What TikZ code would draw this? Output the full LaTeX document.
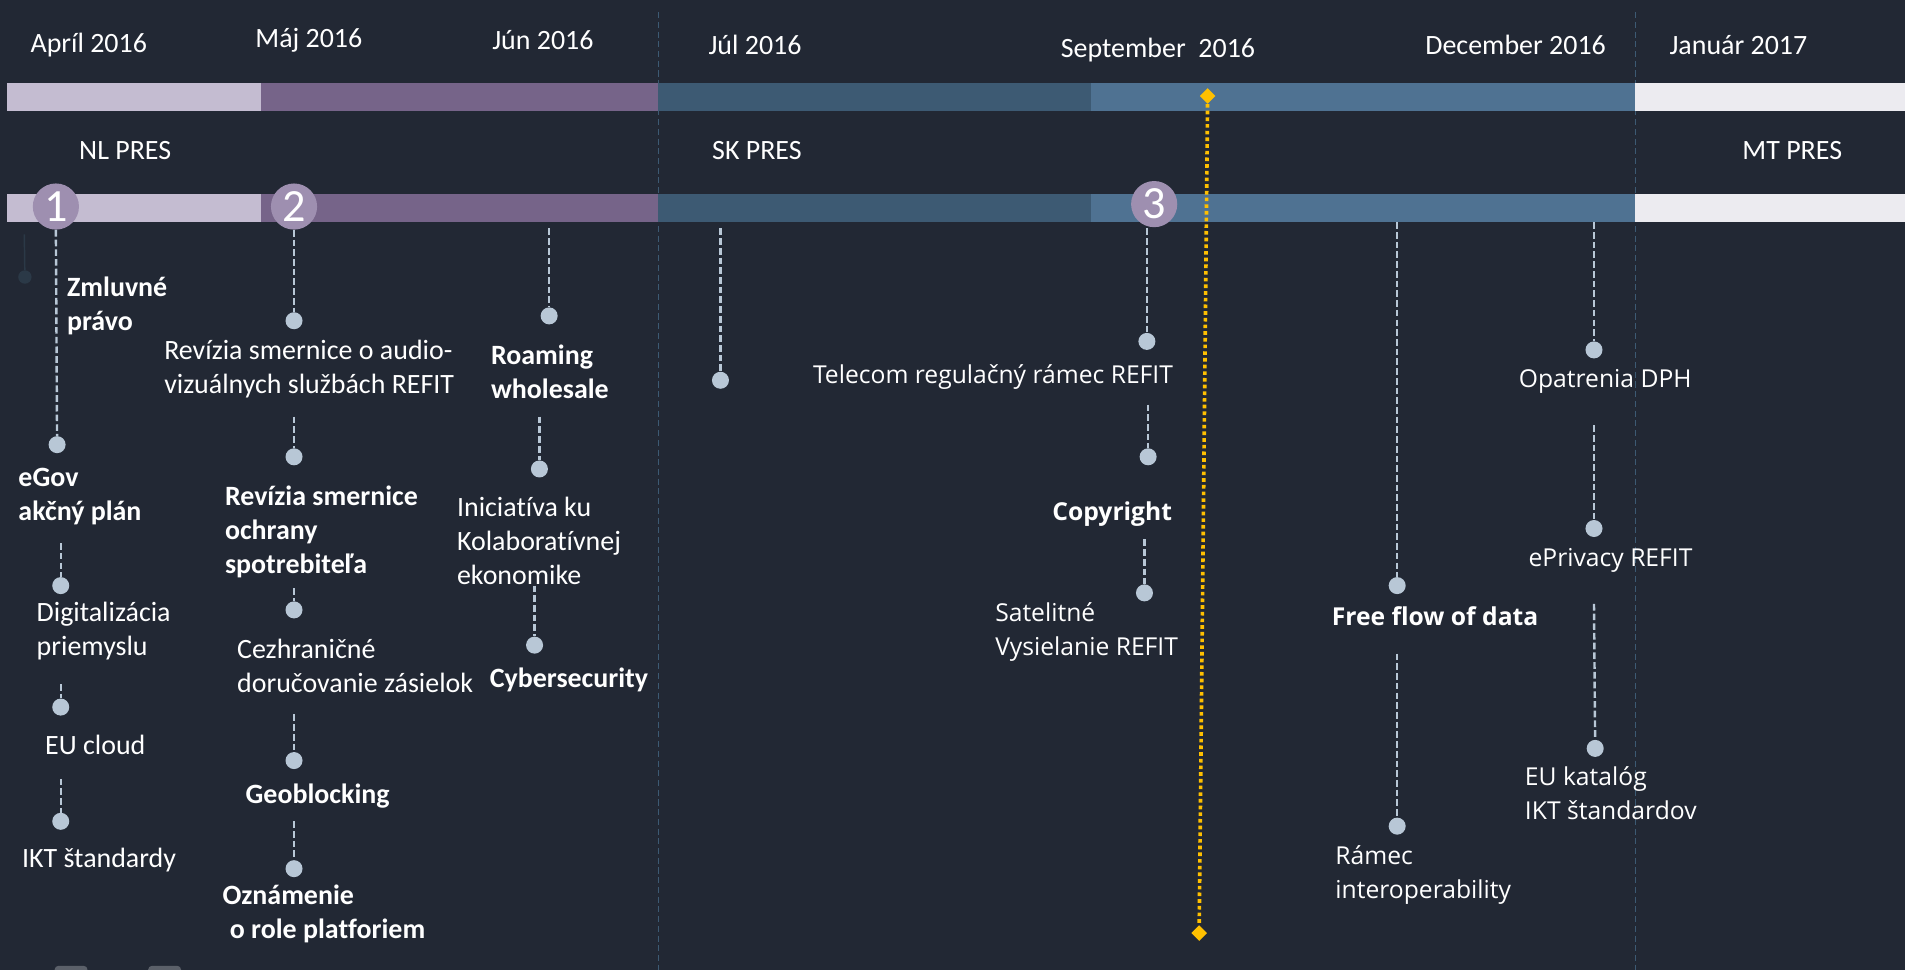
\documentclass[tikz,border=0pt]{standalone}
\usepackage{fontspec}
\setmainfont{Carlito}[Ligatures=NoCommon]
\newfontfamily\uifont{Open Sans}
\usetikzlibrary{shapes.geometric}

\definecolor{bgc}{HTML}{222834}
\definecolor{lavc}{HTML}{C4BCD1}
\definecolor{purc}{HTML}{766489}
\definecolor{steelc}{HTML}{3D5A73}
\definecolor{skyc}{HTML}{4F7292}
\definecolor{palec}{HTML}{ECEBF0}
\definecolor{dotc}{HTML}{B8C7D6}
\definecolor{badgec}{HTML}{9E8FB0}
\definecolor{goldc}{HTML}{FFC000}
\definecolor{sepc}{HTML}{3D5A73}
\definecolor{dimc}{HTML}{2B3947}
\definecolor{tabc}{HTML}{5B6069}

\tikzset{
  lbl/.style={inner sep=0pt, text=white, align=left, anchor=west,
    font=\fontsize{23}{28}\selectfont},
  lblb/.style={lbl, font=\fontsize{23}{28}\selectfont\bfseries},
  uil/.style={inner sep=0pt, text=white, align=left, anchor=west,
    font=\uifont\fontsize{20.3}{28}\selectfont},
  uib/.style={uil, font=\uifont\fontsize{20.3}{28}\selectfont\bfseries},
  dotn/.style={circle, fill=dotc, inner sep=0pt, minimum size=14pt},
  stem/.style={draw=dotc, line width=2pt, dash pattern=on 5.5pt off 2.5pt},
  badge/.style={circle, fill=badgec, inner sep=0pt, minimum size=38pt,
    text=white, font=\fontsize{38}{38}\selectfont},
  sepline/.style={draw=sepc, line width=1pt, dash pattern=on 5pt off 3pt},
  golddia/.style={diamond, fill=goldc, inner sep=0pt, minimum width=13pt, minimum height=13pt},
  goldline/.style={draw=goldc, line width=3pt, dash pattern=on 3pt off 2.5pt},
}

\begin{document}
\begin{tikzpicture}[x=1pt, y=-1pt]
\useasboundingbox (0,0) rectangle (1568,798);
\clip (0,0) rectangle (1568,798);
\fill[bgc] (0,0) rectangle (1568,798);

% presidency separators
\draw[sepline] (542,10) -- (542,798);
\draw[sepline] (1346,10) -- (1346,798);

% timeline bars
\foreach \y in {68,160} {
  \fill[lavc]   (6,\y)    rectangle (215,\y+23);
  \fill[purc]   (215,\y)  rectangle (542,\y+23);
  \fill[steelc] (542,\y)  rectangle (898,\y+23);
  \fill[skyc]   (898,\y)  rectangle (1346,\y+23);
  \fill[palec]  (1346,\y) rectangle (1568,\y+23);
}

% month labels
\node[lbl] (mApr) at (25,37)   {Apríl 2016};
\node[lbl] (mMaj) at (210,33)  {Máj 2016};
\node[lbl] (mJun) at (405,33)  {Jún 2016};
\node[lbl] (mJul) at (583,37)  {Júl 2016};
\node[lbl] (mSep) at (873,41)  {September~~2016};
\node[lbl] (mDec) at (1173,37) {December 2016};
\node[lbl] (mJan) at (1374,37) {Január 2017};

% presidency labels
\node[lbl] (pNL) at (65,124)   {NL PRES};
\node[lbl] (pSK) at (586,124)  {SK PRES};
\node[lbl] (pMT) at (1434,124) {MT PRES};

% faint marker left of badge 1
\coordinate (c00) at (20,193);
\node[circle, fill=dimc, inner sep=0pt, minimum size=11pt] (d00) at (20.5,228) {};
\draw[dimc, line width=1.2pt] (c00) -- (d00);

% column 1
\node[badge] (b1) at (46,170) {1};
\node[dotn] (d11) at (47,366) {};
\draw[stem] (b1.south) -- (d11);
\node[lblb] (t11) at (55,252) {Zmluvné\\právo};
\node[lblb] (t12) at (15,409) {eGov\\akčný plán};
\coordinate (c12) at (50,447);
\node[dotn] (d12) at (50,482) {};
\draw[stem] (c12) -- (d12);
\node[lbl] (t13) at (30,519.5) {Digitalizácia\\priemyslu};
\coordinate (c13) at (50,563);
\node[dotn] (d13) at (50,582) {};
\draw[stem] (c13) -- (d13);
\node[lbl] (t14) at (37,613) {EU cloud};
\coordinate (c14) at (50,641);
\node[dotn] (d14) at (50,676) {};
\draw[stem] (c14) -- (d14);
\node[lbl] (t15) at (18,708) {IKT štandardy};

% column 2
\node[badge] (b2) at (242,170) {2};
\node[dotn] (d21) at (242,264) {};
\draw[stem] (b2.south) -- (d21);
\node[lbl] (t21) at (135,304) {Revízia smernice o audio-\\vizuálnych službách REFIT};
\coordinate (c22) at (242,343);
\node[dotn] (d22) at (242,376) {};
\draw[stem] (c22) -- (d22);
\node[lblb] (t22) at (185,437.5) {Revízia smernice\\ochrany\\spotrebiteľa};
\coordinate (c23) at (242,484);
\node[dotn] (d23) at (242,502) {};
\draw[stem] (c23) -- (d23);
\node[lbl] (t23) at (195,548) {Cezhraničné\\doručovanie zásielok};
\coordinate (c24) at (242,588);
\node[dotn] (d24) at (242,626) {};
\draw[stem] (c24) -- (d24);
\node[lblb] (t24) at (202,655) {Geoblocking};
\coordinate (c25) at (242,676);
\node[dotn] (d25) at (242,715) {};
\draw[stem] (c25) -- (d25);
\node[lblb] (t25) at (183,752) {Oznámenie\\\hspace*{6pt}o role platforiem};

% column 3
\coordinate (c31) at (452,188);
\node[dotn] (d31) at (452,260) {};
\draw[stem] (c31) -- (d31);
\node[lblb] (t31) at (404,306) {Roaming\\wholesale};
\coordinate (c32) at (444,343);
\node[dotn] (d32) at (444,386) {};
\draw[stem] (c32) -- (d32);
\node[lbl] (t32) at (376,445) {Iniciatíva ku\\Kolaboratívnej\\ekonomike};
\coordinate (c33) at (440,482);
\node[dotn] (d33) at (440,531) {};
\draw[stem] (c33) -- (d33);
\node[lblb] (t33) at (403,560) {Cybersecurity};

% column 4
\coordinate (c41) at (593,188);
\node[dotn] (d41) at (593,313) {};
\draw[stem] (c41) -- (d41);
\node[uil] (t41) at (669,310) {Telecom regulačný rámec REFIT};

% column 5
\node[badge] (b3) at (950,168) {3};
\coordinate (c51) at (944,188);
\node[dotn] (d51) at (944,281) {};
\draw[stem] (c51) -- (d51);
\coordinate (c52) at (945,333);
\node[dotn] (d52) at (945,376) {};
\draw[stem] (c52) -- (d52);
\node[uib] (t52) at (866,423) {Copyright};
\coordinate (c53) at (942,444);
\node[dotn] (d53) at (942,488) {};
\draw[stem] (c53) -- (d53);
\node[uil] (t53) at (819,520) {Satelitné\\Vysielanie REFIT};

% column 6
\coordinate (c61) at (1150,183);
\node[dotn] (d61) at (1150,482) {};
\draw[stem] (c61) -- (d61);
\node[uib] (t61) at (1096,507) {Free flow of data};
\coordinate (c62) at (1150,538);
\node[dotn] (d62) at (1150,680) {};
\draw[stem] (c62) -- (d62);
\node[uil] (t62) at (1099,720) {Rámec\\interoperability};

% column 7
\coordinate (c71) at (1312,183);
\node[dotn] (d71) at (1312,288) {};
\draw[stem] (c71) -- (d71);
\node[uil] (t71) at (1250,314) {Opatrenia DPH};
\coordinate (c72) at (1312,350);
\node[dotn] (d72) at (1312,435) {};
\draw[stem] (c72) -- (d72);
\node[uil] (t72) at (1258,461) {ePrivacy REFIT};
\coordinate (c73) at (1312,497);
\node[dotn] (d73) at (1313,616) {};
\draw[stem] (c73) -- (d73);
\node[uil] (t73) at (1255,652.5) {EU katalóg\\IKT štandardov};

% today marker
\node[golddia] (g1) at (994,79) {};
\node[golddia] (g2) at (987,768) {};
\draw[goldline] (g1) -- (g2);

% tabs at the lower edge
\fill[tabc, rounded corners=3pt] (45,795) rectangle (72,806);
\fill[tabc, rounded corners=3pt] (122,795) rectangle (149,806);
\end{tikzpicture}
\end{document}
